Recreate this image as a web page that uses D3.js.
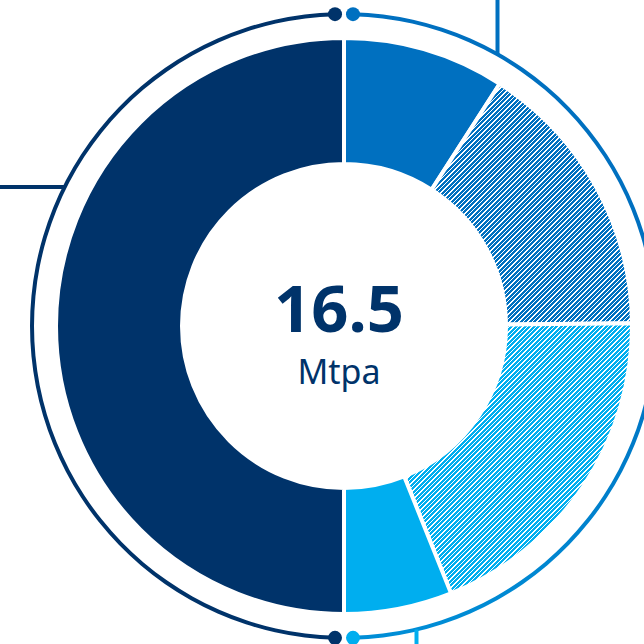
<!DOCTYPE html>
<html>
<head>
<meta charset="utf-8">
<script src="https://cdn.jsdelivr.net/npm/d3@7"></script>
<style>
  html, body { margin: 0; padding: 0; background: #fff; }
  svg { display: block; }
</style>
</head>
<body>
<div id="chart"></div>
<script>
// Capacity split (Mtpa), drawn clockwise from 12 o'clock
const segments = ["A", "B", "C", "D", "E"];
const values = [1.5, 2.6, 3.15, 1.0, 8.25];
const fills = ["#0070c0", "hatch-dark", "hatch-light", "#00aeef", "#00336a"];
const centerUnit = "Mtpa";

const W = 644, H = 644;
const cx = 344, cy = 326;
const outerR = 288, innerR = 162, ringR = 312;
const navy = "#00336a", blue = "#0070c0", sky = "#00aeef";

const svg = d3.select("#chart").append("svg")
  .attr("width", W).attr("height", H);

const defs = svg.append("defs");

// Diagonal pixel hatch ("/" stripes, 4.5px period) built on a 9x9 tile
function hatch(id, color) {
  const n = 9, period = 4.5, ink = 2.6;
  const p = defs.append("pattern")
    .attr("id", id)
    .attr("patternUnits", "userSpaceOnUse")
    .attr("width", n).attr("height", n);
  p.append("rect").attr("width", n).attr("height", n).attr("fill", "#fff");
  const cells = [];
  for (let y = 0; y < n; y++)
    for (let x = 0; x < n; x++)
      if (((x + y + 0.5) % period) < ink) cells.push([x, y]);
  p.selectAll("rect.px")
    .data(cells)
    .join("rect")
    .attr("class", "px")
    .attr("x", d => d[0]).attr("y", d => d[1])
    .attr("width", 1).attr("height", 1)
    .attr("fill", color)
    .attr("shape-rendering", "crispEdges");
}
hatch("hatch-dark", blue);
hatch("hatch-light", sky);

// Gradient for the right-hand ring
const grad = defs.append("linearGradient")
  .attr("id", "ringGrad")
  .attr("gradientUnits", "userSpaceOnUse")
  .attr("x1", 0).attr("y1", cy - ringR)
  .attr("x2", 0).attr("y2", cy + ringR);
grad.append("stop").attr("offset", "0%").attr("stop-color", blue);
grad.append("stop").attr("offset", "100%").attr("stop-color", sky);

const g = svg.append("g").attr("transform", `translate(${cx},${cy})`);

// Donut
const pie = d3.pie().sort(null).value(d => d.v);
const arc = d3.arc().innerRadius(innerR).outerRadius(outerR);
const data = segments.map((s, i) => ({ s, v: values[i], f: fills[i] }));

g.selectAll("path.seg")
  .data(pie(data))
  .join("path")
  .attr("class", "seg")
  .attr("d", arc)
  .attr("fill", d => d.data.f.startsWith("#") ? d.data.f : `url(#${d.data.f})`)
  .attr("stroke", "#fff")
  .attr("stroke-width", 4)
  .attr("stroke-linejoin", "miter");

// Outer rings with end dots
const dotOff = 9 / ringR; // angular offset of the dots from the vertical axis
const ringArc = d3.arc().innerRadius(ringR - 2).outerRadius(ringR + 2);

g.append("path")
  .attr("d", ringArc({ startAngle: -Math.PI + dotOff, endAngle: -dotOff }))
  .attr("fill", navy);
g.append("path")
  .attr("d", ringArc({ startAngle: dotOff, endAngle: Math.PI - dotOff }))
  .attr("fill", "url(#ringGrad)");

const dots = [
  { a: -dotOff, c: navy },
  { a: dotOff, c: blue },
  { a: Math.PI + dotOff, c: navy },
  { a: Math.PI - dotOff, c: sky }
];
g.selectAll("circle.dot")
  .data(dots)
  .join("circle")
  .attr("class", "dot")
  .attr("cx", d => ringR * Math.sin(d.a))
  .attr("cy", d => -ringR * Math.cos(d.a))
  .attr("r", 7)
  .attr("fill", d => d.c);

// Callout leader lines meeting the ring
function ringY(x, sign) { return sign * Math.sqrt(ringR * ringR - x * x); }
const leaders = [
  { x1: 497.5 - cx, y1: -cy, x2: 497.5 - cx, y2: ringY(497.5 - cx, -1), c: blue },
  { x1: 416.5 - cx, y1: H - cy, x2: 416.5 - cx, y2: ringY(416.5 - cx, 1), c: sky },
  { x1: -cx, y1: 187 - cy, x2: -Math.sqrt(ringR * ringR - (187 - cy) ** 2), y2: 187 - cy, c: navy }
];
g.selectAll("line.leader")
  .data(leaders)
  .join("line")
  .attr("class", "leader")
  .attr("x1", d => d.x1).attr("y1", d => d.y1)
  .attr("x2", d => d.x2).attr("y2", d => d.y2)
  .attr("stroke", d => d.c)
  .attr("stroke-width", 4);

// Centre label
const total = d3.sum(values);
g.append("text")
  .attr("x", -5).attr("y", 332 - cy)
  .attr("text-anchor", "middle")
  .attr("font-family", "'Noto Sans', 'Open Sans', sans-serif")
  .attr("font-weight", 700)
  .attr("font-size", 65)
  .attr("fill", navy)
  .text(d3.format(".1f")(total));
g.append("text")
  .attr("x", -5).attr("y", 384 - cy)
  .attr("text-anchor", "middle")
  .attr("font-family", "'Noto Sans', 'Open Sans', sans-serif")
  .attr("font-size", 34)
  .attr("fill", navy)
  .text(centerUnit);
</script>
</body>
</html>
